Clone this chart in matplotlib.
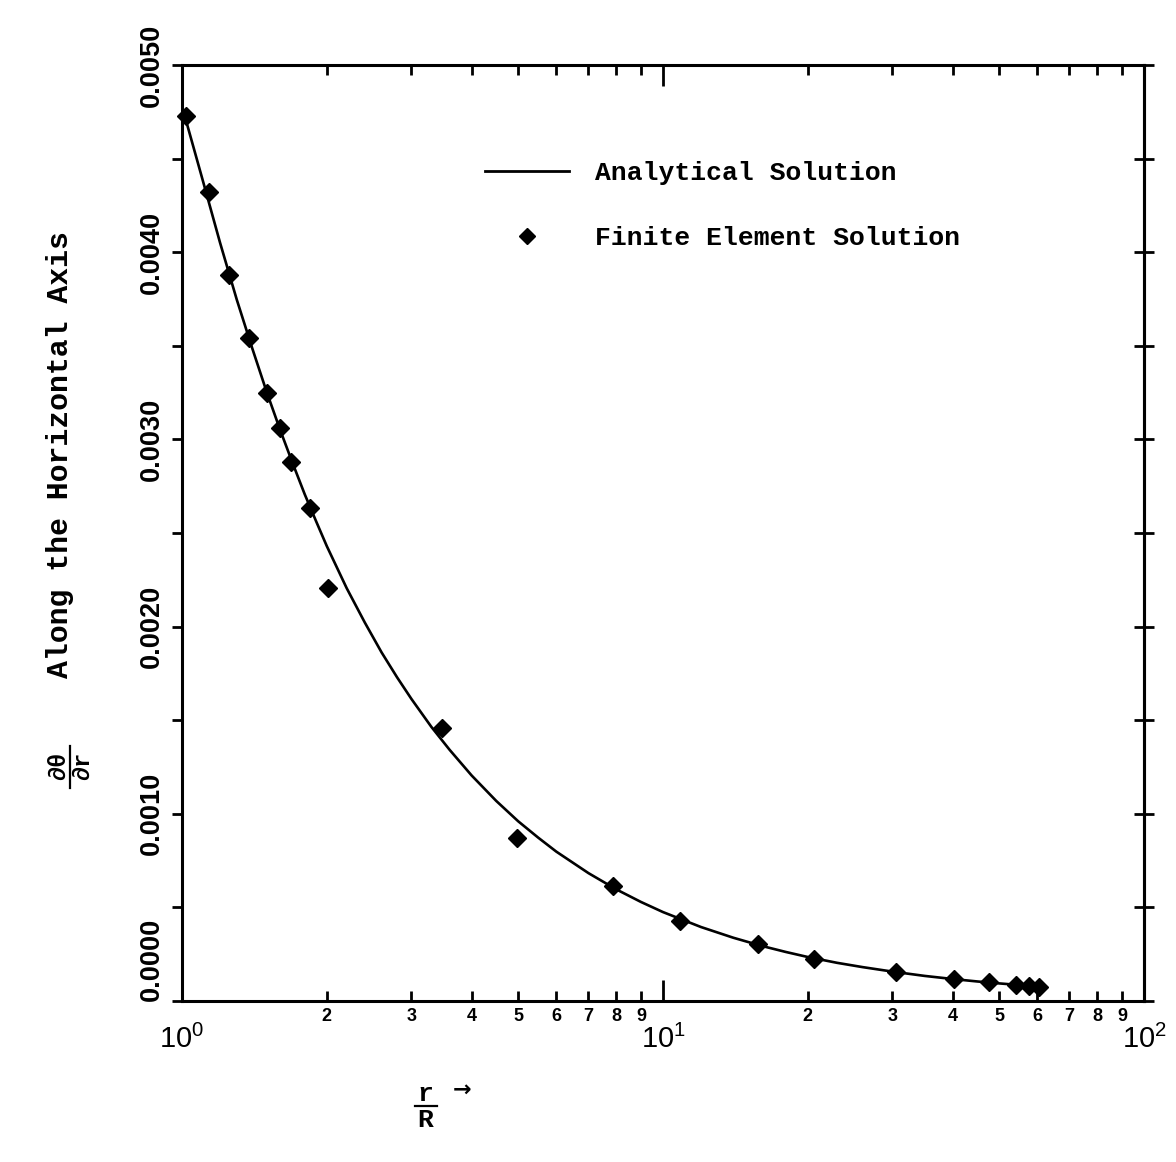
import matplotlib
matplotlib.use("Agg")
import matplotlib.pyplot as plt
from matplotlib.lines import Line2D
from matplotlib.font_manager import FontProperties
from matplotlib.ticker import FixedLocator, FuncFormatter

# ---- data -------------------------------------------------------------
# Analytical solution, r/R vs d(theta)/dr
analytic_r = [1.0, 1.1, 1.2, 1.3, 1.4, 1.5, 1.6, 1.7, 1.8, 1.9, 2.0, 2.2,
              2.4, 2.6, 2.8, 3.0, 3.3, 3.6, 4.0, 4.5, 5.0, 5.5, 6.0, 7.0,
              8.0, 9.0, 10, 12, 14, 16, 18, 20, 23, 26, 30, 35, 40, 45, 50,
              55, 60]
analytic_v = [0.00478, 0.00440, 0.00405, 0.003746, 0.003486, 0.003253,
              0.00305, 0.00287, 0.002706, 0.002563, 0.00243, 0.002205,
              0.002021, 0.001862, 0.001729, 0.001613, 0.001464, 0.001342,
              0.001205, 0.001069, 0.00096, 0.000873, 0.000798, 0.000683,
              0.000596, 0.000529, 0.000475, 0.000395, 0.000338, 0.000295,
              0.000262, 0.000235, 0.000204, 0.000181, 0.000157, 0.000134,
              0.0001175, 0.0001044, 0.000094, 0.0000855, 0.0000783]

# Finite element solution at the mesh nodes
fe_r = [1.02, 1.136, 1.255, 1.376, 1.501, 1.596, 1.688, 1.849, 2.012, 3.47,
        4.96, 7.88, 10.85, 15.78, 20.57, 30.49, 40.27, 47.6, 54.2, 57.6, 60.5]
fe_v = [0.00473, 0.004320, 0.003879, 0.003540, 0.003250, 0.003060, 0.002880,
        0.002636, 0.002205, 0.001460, 0.000870, 0.000615, 0.000428, 0.000302,
        0.000225, 0.000155, 0.000117, 0.000099, 0.000087, 0.000082, 0.000077]

x_major = [1, 10, 100]
x_major_labels = [r"$\mathregular{10^{0}}$", r"$\mathregular{10^{1}}$", r"$\mathregular{10^{2}}$"]
x_minor = [2, 3, 4, 5, 6, 7, 8, 9, 20, 30, 40, 50, 60, 70, 80, 90]
x_minor_labels = ["2", "3", "4", "5", "6", "7", "8", "9"] * 2
y_major = [0.0, 0.001, 0.002, 0.003, 0.004, 0.005]
y_minor = [0.0005, 0.0015, 0.0025, 0.0035, 0.0045]

# ---- figure -----------------------------------------------------------
W, H = 1176, 1162
plt.rcParams["mathtext.fontset"] = "custom"
plt.rcParams["mathtext.rm"] = "Liberation Sans"
plt.rcParams["font.family"] = ["Liberation Sans", "DejaVu Sans"]

fig = plt.figure(figsize=(W / 100, H / 100), dpi=100)
fig.patch.set_facecolor("white")

def fx(px):
    return px / W

def fy(py):
    return 1 - py / H

ax = fig.add_axes([fx(182), fy(1001), (1144 - 182) / W, (1001 - 65) / H])
ax.set_xscale("log")
ax.set_xlim(1, 100)
ax.set_ylim(0, 0.005)

for s in ax.spines.values():
    s.set_linewidth(2.2)
    s.set_color("black")

ax.plot(analytic_r, analytic_v, color="black", lw=1.9,
        solid_joinstyle="round", solid_capstyle="round")
ax.plot(fe_r, fe_v, "D", ms=9.5, color="black", clip_on=False)

# x axis ticks
ax.xaxis.set_major_locator(FixedLocator(x_major))
ax.xaxis.set_minor_locator(FixedLocator(x_minor))
ax.set_xticks(x_major, x_major_labels)
ax.set_xticks(x_minor, x_minor_labels, minor=True)
ax.tick_params(axis="x", which="major", direction="in", length=15, width=2,
               top=True, labelsize=21, pad=17)
ax.tick_params(axis="x", which="minor", direction="in", length=7.5, width=2,
               top=True, labelsize=13, pad=5)
for lbl in ax.get_xticklabels(minor=True):
    lbl.set_fontweight("bold")

# y axis ticks (left: outward, labelled)
ax.set_yticks(y_major)
ax.set_yticks(y_minor, minor=True)
ax.yaxis.set_major_formatter(FuncFormatter(lambda v, p: f"{v:.4f}"))
ax.tick_params(axis="y", which="both", direction="out", length=7.5, width=2,
               right=False)
ax.tick_params(axis="y", which="major", labelsize=19.5, pad=5)
for i, lbl in enumerate(ax.get_yticklabels()):
    lbl.set_rotation(90)
    lbl.set_fontweight("bold")
    lbl.set_va("bottom" if i == 0 else "center")

# right axis: crossing ticks, no labels
sec = ax.secondary_yaxis("right")
sec.set_yticks(sorted(y_major + y_minor))
sec.tick_params(direction="inout", length=15, width=2, labelright=False)
sec.spines["right"].set_linewidth(2.2)

# legend
handles = [Line2D([], [], color="black", lw=2.0),
           Line2D([], [], marker="D", ls="none", ms=8, color="black")]
ax.legend(handles, ["Analytical Solution", "Finite Element Solution"],
          prop=FontProperties(family="Liberation Mono", weight="bold", size=19),
          frameon=False, loc="upper left", bbox_to_anchor=(fx(485), fy(161)),
          bbox_transform=fig.transFigure, borderpad=0, borderaxespad=0,
          handlelength=3.2, handletextpad=0.95, labelspacing=1.55)

# y axis title: fraction d(theta)/dr followed by the description
mono = ["Liberation Mono", "DejaVu Sans Mono"]
fig.text(fx(60), fy(455), "Along the Horizontal Axis", rotation=90,
         ha="center", va="center", family=mono, weight="bold", fontsize=21.5)
fig.text(fx(58), fy(766), "\u2202\u03b8", rotation=90, ha="center", va="center",
         family=mono, weight="bold", fontsize=17)
fig.text(fx(82), fy(766), "\u2202r", rotation=90, ha="center", va="center",
         family=mono, weight="bold", fontsize=17)
fig.add_artist(Line2D([fx(70), fx(70)], [fy(746), fy(788)], color="black", lw=1.6))

# x axis title: r/R with arrow
fig.text(fx(425), fy(1094), "r", ha="center", va="center",
         family=mono, weight="bold", fontsize=19)
fig.text(fx(425), fy(1120), "R", ha="center", va="center",
         family=mono, weight="bold", fontsize=19)
fig.add_artist(Line2D([fx(415), fx(437)], [fy(1106), fy(1106)], color="black", lw=1.6))
fig.text(fx(462), fy(1090), "\u2192", ha="center", va="center",
         family=["DejaVu Sans"], fontsize=16, weight="bold")

fig.savefig("out.png", dpi=100, facecolor="white")
